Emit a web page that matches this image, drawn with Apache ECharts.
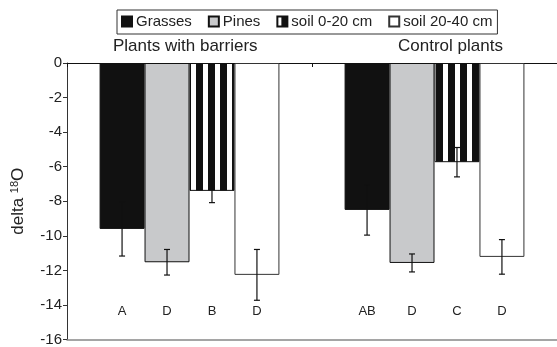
<!DOCTYPE html>
<html>
<head>
<meta charset="utf-8">
<script src="https://cdn.jsdelivr.net/npm/echarts@6/dist/echarts.min.js"></script>
<style>html,body{margin:0;padding:0;background:#fff;}#c{width:557px;height:347px;}</style>
</head>
<body>
<div id="c"></div>
<script>
// ---- data ----
const groups = ['Plants with barriers', 'Control plants'];
const seriesNames = ['Grasses', 'Pines', 'soil 0-20 cm', 'soil 20-40 cm'];
const grasses = [-9.6, -8.5];
const pines = [-11.53, -11.57];
const soil0_20 = [-7.4, -5.74];
const soil20_40 = [-12.26, -11.22];
const grassesErr = [1.57, 1.46];
const pinesErr = [0.74, 0.52];
const soil0_20Err = [0.68, 0.85];
const soil20_40Err = [1.47, 1.0];
const grassesLetters = ['A', 'AB'];
const pinesLetters = ['D', 'D'];
const soil0_20Letters = ['B', 'C'];
const soil20_40Letters = ['D', 'D'];
const yTicks = [-16, -14, -12, -10, -8, -6, -4, -2, 0];

const values = [grasses, pines, soil0_20, soil20_40];
const errs = [grassesErr, pinesErr, soil0_20Err, soil20_40Err];
const letters = [grassesLetters, pinesLetters, soil0_20Letters, soil20_40Letters];

const FONT = 'Liberation Sans, Arial, sans-serif';
const CAT_GAP = 0.266;
const LETTER_LEVEL = -14.4;

function stripes() {
  const c = document.createElement('canvas');
  c.width = 12; c.height = 4;
  const g = c.getContext('2d');
  g.fillStyle = '#fff'; g.fillRect(0, 0, 12, 4);
  g.fillStyle = '#111'; g.fillRect(4, 0, 7, 4);
  return c;
}
const fills = ['#111111', '#c8c9cb', { image: stripes(), repeat: 'repeat' }, '#ffffff'];
const borders = ['#111', '#111', '#111', '#333'];

const errData = [];
const errLetters = [];
for (let k = 0; k < 4; k++) {
  for (let i = 0; i < groups.length; i++) {
    errData.push([i, k, values[k][i], errs[k][i]]);
    errLetters.push(letters[k][i]);
  }
}

const series = seriesNames.map((n, k) => ({
  name: n,
  type: 'bar',
  data: values[k],
  barGap: '0%',
  barCategoryGap: (CAT_GAP * 100) + '%',
  itemStyle: { color: fills[k], borderColor: borders[k], borderWidth: 1 },
  emphasis: { disabled: true },
  z: 2
}));

series.push({
  type: 'custom',
  xAxisIndex: 0,
  data: errData,
  encode: { x: 0, y: 2 },
  z: 5,
  clip: false,
  renderItem: function (params, api) {
    const cat = api.value(0), k = api.value(1), v = api.value(2), e = api.value(3);
    const bw = api.size([1, 0])[0] * (1 - CAT_GAP) / 4;
    const cx = api.coord([cat, 0])[0] + (k - 1.5) * bw;
    const yTop = api.coord([cat, v + e])[1];
    const yBot = api.coord([cat, v - e])[1];
    const ly = api.coord([cat, LETTER_LEVEL])[1];
    const st = { stroke: '#111', lineWidth: 1.2 };
    const cap = 3;
    return {
      type: 'group',
      children: [
        { type: 'line', shape: { x1: cx, y1: yTop, x2: cx, y2: yBot }, style: st },
        { type: 'line', shape: { x1: cx - cap, y1: yTop, x2: cx + cap, y2: yTop }, style: st },
        { type: 'line', shape: { x1: cx - cap, y1: yBot, x2: cx + cap, y2: yBot }, style: st },
        { type: 'text', x: cx, y: ly, style: { text: errLetters[params.dataIndex], fill: '#222', font: '13px ' + FONT, align: 'center', verticalAlign: 'middle' } }
      ]
    };
  }
});

const chart = echarts.init(document.getElementById('c'), null, { renderer: 'canvas' });
chart.setOption({
  animation: false,
  backgroundColor: '#fff',
  textStyle: { fontFamily: FONT },
  title: [
    { text: groups[0], left: 113, top: 38, padding: 0, textStyle: { fontSize: 17, fontWeight: 'normal', color: '#222', fontFamily: FONT } },
    { text: groups[1], left: 398, top: 38, padding: 0, textStyle: { fontSize: 17, fontWeight: 'normal', color: '#222', fontFamily: FONT } }
  ],
  legend: {
    data: seriesNames,
    left: 117, top: 10,
    padding: [4, 5, 5, 4],
    itemGap: 16,
    itemWidth: 10, itemHeight: 10,
    borderColor: '#333', borderWidth: 1,
    icon: 'rect',
    textStyle: { fontSize: 15, color: '#222', fontFamily: FONT, padding: [0, 0, 0, -1] }
  },
  grid: { left: 67, right: -6, top: 63, bottom: 6, containLabel: false },
  xAxis: [
    {
      type: 'category', data: groups, position: 'top',
      axisLine: { show: true, onZero: false, lineStyle: { color: '#111', width: 1 } },
      axisTick: { show: true, inside: true, length: 4, lineStyle: { color: '#111' } },
      axisLabel: { show: false },
      splitLine: { show: false }
    },
    {
      type: 'category', data: groups, position: 'bottom',
      axisLine: { show: true, onZero: false, lineStyle: { color: '#888', width: 1.5 } },
      axisTick: { show: false },
      axisLabel: { show: false },
      splitLine: { show: false }
    }
  ],
  yAxis: {
    type: 'value', min: yTicks[0], max: yTicks[yTicks.length - 1], interval: 2,
    axisLine: { show: true, onZero: false, lineStyle: { color: '#333', width: 1 } },
    axisTick: { show: true, length: 4, lineStyle: { color: '#333' } },
    axisLabel: { fontSize: 15, color: '#222', margin: 5, fontFamily: FONT },
    splitLine: { show: false },
    name: 'delta {sup|18}O',
    nameLocation: 'middle',
    nameGap: 40,
    nameTextStyle: {
      fontSize: 17, color: '#222', fontFamily: FONT,
      rich: { sup: { fontSize: 11, color: '#222', fontFamily: FONT, verticalAlign: 'top', padding: [0, 0, 7, 0] } }
    }
  },
  series: series
});
</script>
</body>
</html>
